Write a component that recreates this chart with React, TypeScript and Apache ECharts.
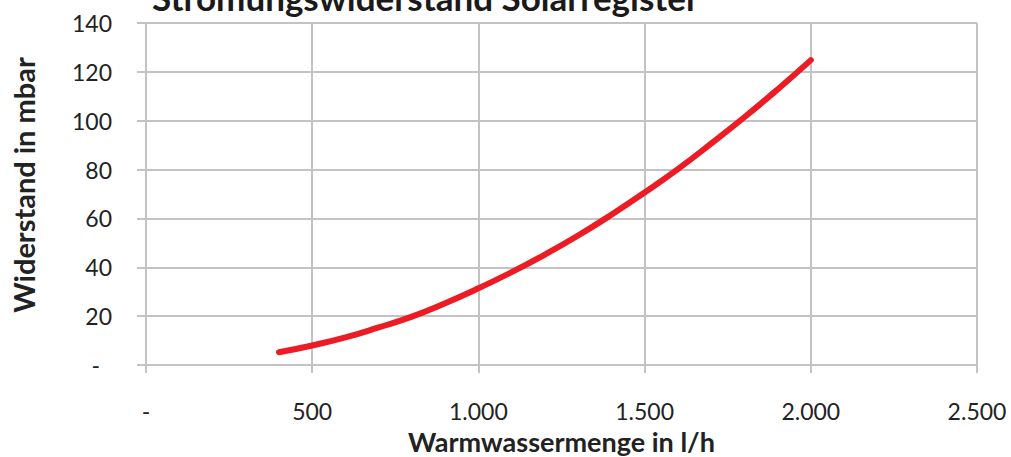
import React, { useEffect, useRef } from "react";
import * as echarts from "echarts";

const flow = [400, 500, 600, 700, 800, 900, 1000, 1100, 1200, 1300, 1400, 1500, 1600, 1700, 1800, 1900, 2000];
const resistance = [5.2, 8, 11.3, 15.4, 19.8, 25.3, 31.4, 38, 45.2, 53, 61.5, 70.6, 80.2, 90.6, 101.4, 112.8, 124.8];

const titleText = "Strömungswiderstand Solarregister";
const xTitle = "Warmwassermenge in l/h";
const yTitle = "Widerstand in mbar";

const fmtThousands = (v: number) => {
  const s = String(Math.round(v));
  return s.replace(/\B(?=(\d{3})+(?!\d))/g, ".");
};

export default function App() {
  const ref = useRef<HTMLDivElement>(null);
  useEffect(() => {
    if (!ref.current) return;
    const chart = echarts.init(ref.current, undefined, { renderer: "svg" });
    const gridColor = "#C3C3C3";
    const font = "Lato, 'Open Sans', sans-serif";
    chart.setOption({
      animation: false,
      backgroundColor: "#ffffff",
      title: {
        text: titleText,
        left: 147,
        top: -26,
        textStyle: { fontFamily: font, fontWeight: "bold", fontSize: 35, color: "#1a1a1a" },
      },
      grid: { left: 146, right: 34, top: 23, bottom: 92, containLabel: false, outerBoundsMode: "none" },
      xAxis: {
        type: "value",
        min: 0,
        max: 2500,
        interval: 500,
        name: xTitle,
        nameLocation: "middle",
        nameGap: 63,
        nameTextStyle: { fontFamily: font, fontWeight: "bold", fontSize: 27, color: "#222" },
        axisLine: { show: true, lineStyle: { color: gridColor, width: 2 } },
        axisTick: { show: true, length: 8, lineStyle: { color: gridColor, width: 2 } },
        splitLine: { show: true, lineStyle: { color: gridColor, width: 2 } },
        axisLabel: {
          margin: 34,
          fontFamily: font,
          fontSize: 23,
          color: "#222",
          formatter: (v: number) => (v === 0 ? "{d|-}" : fmtThousands(v)),
          rich: { d: { fontFamily: font, fontSize: 23, color: "#222", padding: [0, 0, 14, 0] } },
        },
      },
      yAxis: {
        type: "value",
        min: 0,
        max: 140,
        interval: 20,
        name: yTitle,
        nameLocation: "middle",
        nameGap: 108,
        nameRotate: 90,
        nameTextStyle: { fontFamily: font, fontWeight: "bold", fontSize: 29, color: "#222", padding: [0, 0, 0, 18] },
        axisLine: { show: true, lineStyle: { color: gridColor, width: 2 } },
        axisTick: { show: true, length: 9, lineStyle: { color: gridColor, width: 2 } },
        splitLine: { show: true, lineStyle: { color: gridColor, width: 2 } },
        axisLabel: {
          margin: 34,
          fontFamily: font,
          fontSize: 23,
          color: "#222",
          formatter: (v: number) => (v === 0 ? "{d|-}" : String(v)),
          rich: { d: { fontFamily: font, fontSize: 23, color: "#222", padding: [0, 12, 0, 0] } },
        },
      },
      series: [
        {
          type: "line",
          data: flow.map((f, i) => [f, resistance[i]]),
          smooth: true,
          showSymbol: false,
          lineStyle: { color: "#ED1C24", width: 6, cap: "round" },
        },
      ],
    });
    return () => chart.dispose();
  }, []);
  return <div ref={ref} style={{ width: 1011, height: 457, position: "absolute", left: 0, top: 0 }} />;
}
